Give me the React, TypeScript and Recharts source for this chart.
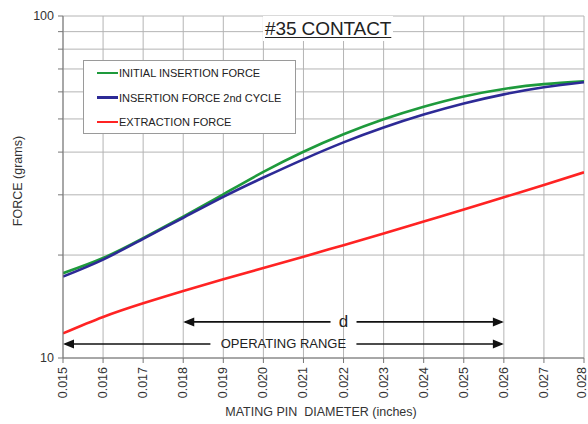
import React from 'react';
import { LineChart, Line, XAxis, YAxis, CartesianGrid, ReferenceLine, Label } from 'recharts';

const diameters = [0.015, 0.016, 0.017, 0.018, 0.019, 0.020, 0.021, 0.022, 0.023, 0.024, 0.025, 0.026, 0.027, 0.028];
const initialInsertion = [17.7, 19.6, 22.4, 25.9, 30.1, 35.0, 40.1, 45.1, 49.9, 54.3, 58.2, 61.2, 63.2, 64.4];
const secondInsertion = [17.3, 19.4, 22.3, 25.7, 29.6, 33.7, 38.1, 42.7, 47.2, 51.5, 55.5, 59.0, 61.9, 64.0];
const extraction = [11.8, 13.18, 14.45, 15.7, 16.98, 18.32, 19.77, 21.38, 23.12, 25.06, 27.16, 29.51, 32.06, 34.91];

const yTicks = [10, 20, 30, 40, 50, 60, 70, 80, 90, 100];
const yLabelTicks = [10, 100];

const seriesNames = ['INITIAL INSERTION FORCE', 'INSERTION FORCE 2nd CYCLE', 'EXTRACTION FORCE'];
const seriesColors = ['#1e9a3c', '#2d2a96', '#ff2323'];

const dRange = { from: 0.018, to: 0.026, y: 12.75, label: 'd' };
const operatingRange = { from: 0.015, to: 0.026, y: 10.99, label: 'OPERATING RANGE' };

const data = diameters.map((d, i) => ({
  d,
  initial: initialInsertion[i],
  second: secondInsertion[i],
  extraction: extraction[i],
}));

const FONT = '"Liberation Sans", Arial, sans-serif';

const XTick = (props: any) => {
  const { x, y, payload, index } = props;
  const tx = index === diameters.length - 1 ? x - 2 : x;
  return (
    <text
      x={tx}
      y={y + 2}
      transform={`rotate(-90, ${tx}, ${y + 2})`}
      textAnchor="end"
      dominantBaseline="central"
      fontSize={12.5}
      fontFamily={FONT}
      fill="#333"
    >
      {Number(payload.value).toFixed(3)}
    </text>
  );
};

const YTick = (props: any) => {
  const { x, y, payload } = props;
  if (!yLabelTicks.includes(payload.value)) return null;
  return (
    <text x={x - 2} y={y} textAnchor="end" dominantBaseline="central" fontSize={12.5} fontFamily={FONT} fill="#333">
      {payload.value}
    </text>
  );
};

const makeArrow = (label: string, fontSize: number, halfGap: number) => (props: any) => {
  const { x1, y1, x2 } = props;
  const y = y1;
  const cx = (x1 + x2) / 2;
  const hl = 11;
  const hh = 4.5;
  return (
    <g>
      <line x1={x1 + 2} y1={y} x2={cx - halfGap} y2={y} stroke="#111" strokeWidth={1.6} />
      <line x1={cx + halfGap} y1={y} x2={x2 - 2} y2={y} stroke="#111" strokeWidth={1.6} />
      <polygon points={`${x1},${y} ${x1 + hl},${y - hh} ${x1 + hl},${y + hh}`} fill="#111" />
      <polygon points={`${x2},${y} ${x2 - hl},${y - hh} ${x2 - hl},${y + hh}`} fill="#111" />
      <text x={cx} y={y} textAnchor="middle" dominantBaseline="central" fontSize={fontSize} fontFamily={FONT} fill="#222">
        {label}
      </text>
    </g>
  );
};

const LegendBox = () => (
  <div
    style={{
      position: 'absolute',
      left: 83,
      top: 60,
      width: 213,
      height: 74,
      boxSizing: 'border-box',
      border: '1px solid #9a9a9a',
      background: '#fff',
      fontFamily: FONT,
    }}
  >
    {seriesNames.map((n, i) => (
      <div
        key={n}
        style={{ position: 'absolute', left: 13, top: 4 + i * 24.5, height: 16, display: 'flex', alignItems: 'center' }}
      >
        <div style={{ width: 21, height: 2.5, background: seriesColors[i] }} />
        <span style={{ fontSize: 11, color: '#222', marginLeft: 1, whiteSpace: 'nowrap' }}>{n}</span>
      </div>
    ))}
  </div>
);

export default function App() {
  return (
    <div style={{ position: 'absolute', left: 0, top: 0, width: 588, height: 424, background: '#fff' }}>
      <LineChart width={588} height={424} data={data} margin={{ top: 16, right: 4, bottom: 0, left: 0 }}>
        <CartesianGrid stroke="#b4b4b4" strokeWidth={1} />
        <XAxis
          dataKey="d"
          type="number"
          domain={[0.015, 0.028]}
          ticks={diameters}
          interval={0}
          tick={<XTick />}
          tickSize={5}
          height={66}
          stroke="#777"
          allowDataOverflow
        >
          <Label
            content={() => (
              <text x={321} y={412} textAnchor="middle" dominantBaseline="central" fontSize={12.5} fontFamily={FONT} fill="#333" xmlSpace="preserve" style={{ whiteSpace: 'pre' }}>
                {'MATING PIN\u00A0\u00A0DIAMETER (inches)'}
              </text>
            )}
          />
        </XAxis>
        <YAxis
          scale="log"
          domain={[10, 100]}
          ticks={yTicks}
          tick={<YTick />}
          tickSize={5}
          width={63}
          stroke="#777"
          allowDataOverflow
          interval={0}
        >
          <Label
            content={() => (
              <text
                x={18}
                y={181}
                transform="rotate(-90, 18, 181)"
                textAnchor="middle"
                dominantBaseline="central"
                fontSize={12.5}
                fontFamily={FONT}
                fill="#333"
              >
                FORCE (grams)
              </text>
            )}
          />
        </YAxis>
        <ReferenceLine
          segment={[{ x: dRange.from, y: dRange.y }, { x: dRange.to, y: dRange.y }]}
          shape={makeArrow(dRange.label, 17, 13)}
          ifOverflow="visible"
        />
        <ReferenceLine
          segment={[{ x: operatingRange.from, y: operatingRange.y }, { x: operatingRange.to, y: operatingRange.y }]}
          shape={makeArrow(operatingRange.label, 13, 73)}
          ifOverflow="visible"
        />
        <Line type="natural" dataKey="extraction" stroke={seriesColors[2]} strokeWidth={2.6} dot={false} isAnimationActive={false} />
        <Line type="natural" dataKey="initial" stroke={seriesColors[0]} strokeWidth={2.6} dot={false} isAnimationActive={false} />
        <Line type="natural" dataKey="second" stroke={seriesColors[1]} strokeWidth={2.6} dot={false} isAnimationActive={false} />
      </LineChart>
      <LegendBox />
      <div
        style={{
          position: 'absolute',
          left: 263,
          top: 16,
          padding: '0 2px',
          background: '#fff',
          fontFamily: FONT,
          fontSize: 19,
          lineHeight: '25px',
          color: '#222',
          textDecoration: 'underline',
          textUnderlineOffset: 2,
          letterSpacing: -0.1,
        }}
      >
        #35 CONTACT
      </div>
    </div>
  );
}
